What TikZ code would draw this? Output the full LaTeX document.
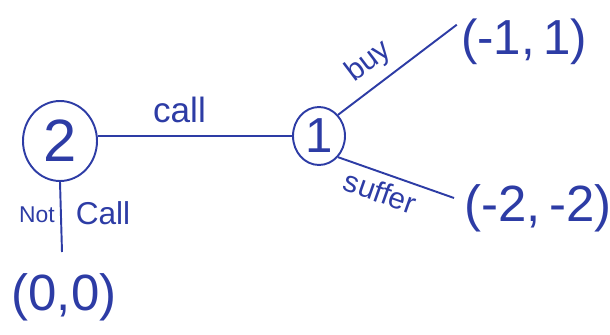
\documentclass[tikz,border=0pt]{standalone}
\usepackage{fontspec}
\setmainfont{Liberation Sans}
\usetikzlibrary{shapes.geometric}
\begin{document}
\begin{tikzpicture}[x=0.02cm,y=-0.02cm,
  ink/.style={draw=inkblue,line width=1.1pt},
  lbl/.style={text=inkblue,inner sep=0pt},
  decision/.style={ink,ellipse,inner sep=0pt,text=inkblue},
]
\definecolor{inkblue}{RGB}{45,60,165}
\useasboundingbox (0,0) rectangle (610,335);
\node[decision,minimum width=1.48cm,minimum height=1.6cm] (n2) at (60,141) {\fontsize{34}{34}\selectfont 2};
\node[decision,minimum width=1.04cm,minimum height=1.16cm] (n1) at (319,136) {\fontsize{28}{28}\selectfont 1};
\node[lbl] (p1) at (524,42) {\fontsize{28}{28}\selectfont (-1,\,1)};
\node[lbl] (p2) at (538,208) {\fontsize{29}{29}\selectfont (-2,\,-2)};
\node[lbl] (p0) at (64,297) {\fontsize{29}{29}\selectfont (0,0)};
\coordinate (e0) at (62,252);
\draw[ink] (n1.west -| n2.east) -- (n1.west) node[pos=0.42,above=7pt,lbl] (lc) {\fontsize{20}{20}\selectfont call};
\draw[ink] (n1.north east) -- ([xshift=-0.08cm,yshift=-0.12cm]p1.north west) node[pos=0.38,above=5pt,sloped,lbl] (lb) {\fontsize{17}{17}\selectfont buy};
\draw[ink] (n1.south east) -- ([xshift=-0.2cm,yshift=0.2cm]p2.west) node[pos=0.42,below=4pt,sloped,lbl] (ls) {\fontsize{17}{17}\selectfont suffer};
\draw[ink] (n2.south) -- (e0);
\node[lbl] (lnot) at (37,215) {\fontsize{13}{13}\selectfont Not};
\node[lbl] (lcall) at (103,213) {\fontsize{18}{18}\selectfont Call};
\end{tikzpicture}
\end{document}
